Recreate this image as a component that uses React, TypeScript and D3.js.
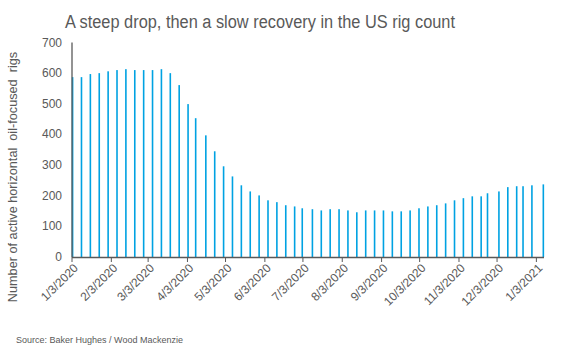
import React from "react";
import * as d3 from "d3";

const dates: string[] = [
  "2020-01-03", "2020-01-10", "2020-01-17", "2020-01-24", "2020-01-31",
  "2020-02-07", "2020-02-14", "2020-02-21", "2020-02-28", "2020-03-06",
  "2020-03-13", "2020-03-20", "2020-03-27", "2020-04-03", "2020-04-09",
  "2020-04-17", "2020-04-24", "2020-05-01", "2020-05-08", "2020-05-15",
  "2020-05-22", "2020-05-29", "2020-06-05", "2020-06-12", "2020-06-19",
  "2020-06-26", "2020-07-02", "2020-07-10", "2020-07-17", "2020-07-24",
  "2020-07-31", "2020-08-07", "2020-08-14", "2020-08-21", "2020-08-28",
  "2020-09-04", "2020-09-11", "2020-09-18", "2020-09-25", "2020-10-02",
  "2020-10-09", "2020-10-16", "2020-10-23", "2020-10-30", "2020-11-06",
  "2020-11-13", "2020-11-20", "2020-11-25", "2020-12-04", "2020-12-11",
  "2020-12-18", "2020-12-23", "2020-12-30", "2021-01-08",
];

const rigs: number[] = [
  587, 587, 597, 600, 606,
  610, 613, 610, 610, 610,
  613, 600, 561, 499, 453,
  397, 345, 296, 263, 234,
  214, 201, 185, 179, 169,
  165, 159, 156, 152, 156,
  156, 152, 146, 152, 152,
  152, 149, 149, 152, 159,
  165, 169, 175, 185, 192,
  198, 198, 208, 214, 228,
  231, 231, 234, 237,
];

const xTickDates: string[] = [
  "2020-01-03", "2020-02-03", "2020-03-03", "2020-04-03", "2020-05-03",
  "2020-06-03", "2020-07-03", "2020-08-03", "2020-09-03", "2020-10-03",
  "2020-11-03", "2020-12-03", "2021-01-03",
];

const yTicks: number[] = [0, 100, 200, 300, 400, 500, 600, 700];

const title = "A steep drop, then a slow recovery in the US rig count";
const yTitle = "Number of active horizontal  oil-focused  rigs";
const source = "Source: Baker Hughes / Wood Mackenzie";

const parse = d3.utcParse("%Y-%m-%d");
const fmt = d3.utcFormat("%-m/%-d/%Y");

export default function App() {
  const W = 572;
  const H = 357;
  const x = d3
    .scaleUtc()
    .domain([parse("2020-01-03")!, parse("2021-01-09")!])
    .range([72, 544]);
  const y = d3.scaleLinear().domain([0, 700]).range([257, 42.5]);
  const grey = "#595959";
  const font = "'Liberation Sans', Arial, sans-serif";
  const x0 = x.range()[0];
  const x1 = x.range()[1];

  return (
    <svg
      width={W}
      height={H}
      style={{ position: "absolute", left: 0, top: 0, background: "#fff" }}
      fontFamily={font}
    >
      <text
        x={65}
        y={28}
        fontSize={18}
        fill={grey}
        textLength={390}
        lengthAdjust="spacingAndGlyphs"
      >
        {title}
      </text>
      {/* bars */}
      {dates.map((d, i) => {
        const cx = x(parse(d)!) + 0.6;
        return (
          <rect
            key={d}
            x={cx - 0.8}
            y={y(rigs[i])}
            width={1.6}
            height={y(0) - y(rigs[i])}
            fill="#00a2e2"
          />
        );
      })}
      {/* y axis line */}
      <line x1={x0} x2={x0} y1={y(700)} y2={y(0)} stroke="#595959" strokeWidth={1.3} />
      {/* x axis */}
      <line x1={x0} x2={x1} y1={y(0) + 0.5} y2={y(0) + 0.5} stroke="#595959" strokeWidth={1.3} />
      {xTickDates.map((d) => {
        const tx = x(parse(d)!);
        return (
          <g key={d}>
            <line x1={tx} x2={tx} y1={y(0)} y2={y(0) + 5} stroke="#595959" strokeWidth={1} />
            <text
              transform={`translate(${tx + 4},${y(0) + 9}) rotate(-45)`}
              textAnchor="end"
              dominantBaseline="central"
              fontSize={12}
              fill={grey}
            >
              {fmt(parse(d)!)}
            </text>
          </g>
        );
      })}
      {yTicks.map((t) => (
        <text
          key={t}
          x={62}
          y={y(t)}
          textAnchor="end"
          dominantBaseline="central"
          fontSize={12}
          fill={grey}
        >
          {t}
        </text>
      ))}
      <text
        transform={`translate(13,177) rotate(-90)`}
        textAnchor="middle"
        dominantBaseline="central"
        fontSize={12.7}
        fill={grey}
        style={{ whiteSpace: "pre" }}
      >
        {yTitle}
      </text>
      <text x={16} y={343} fontSize={9} fill={grey}>
        {source}
      </text>
    </svg>
  );
}
